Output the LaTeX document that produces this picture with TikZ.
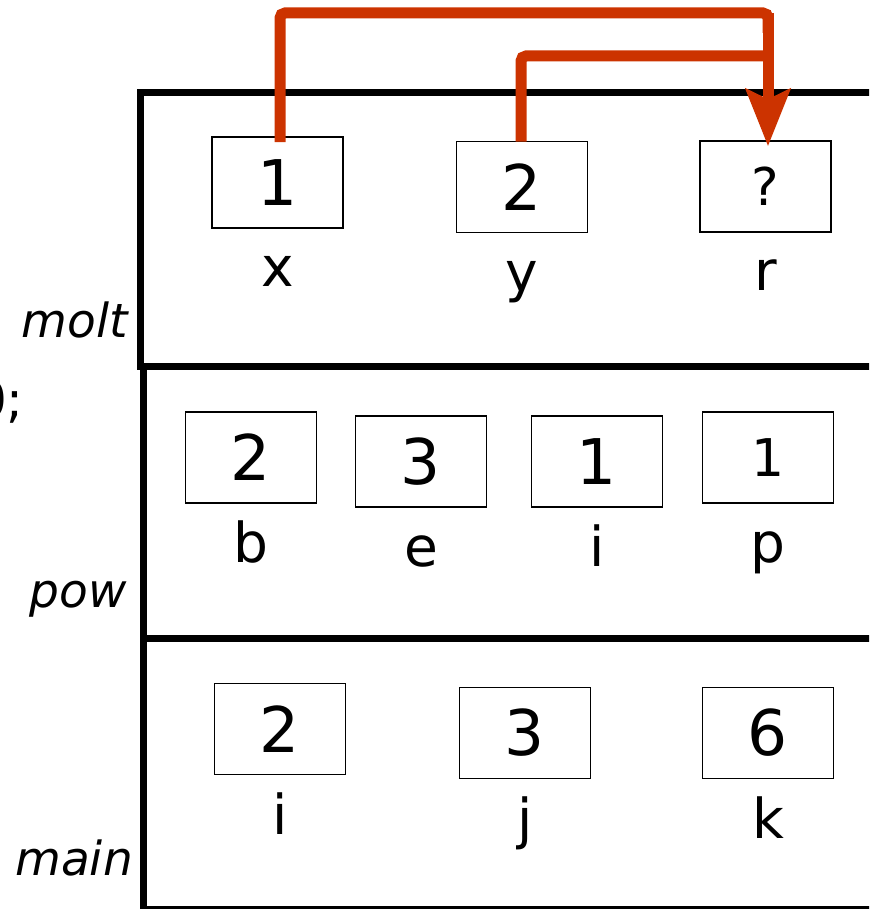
\documentclass[tikz,border=0pt]{standalone}
\usepackage{fontspec}
\setmainfont{DejaVu Sans}
\usetikzlibrary{arrows.meta}
\definecolor{arrred}{RGB}{204,51,0}
\tikzset{
  val/.style={draw=black, line width=1.5pt, minimum width=131pt, minimum height=91pt, inner sep=0pt, font=\fontsize{63}{63}\selectfont},
  valsmall/.style={val, font=\fontsize{52}{52}\selectfont},
  lbl/.style={anchor=base, inner sep=0pt, font=\fontsize{55}{55}\selectfont},
  frlbl/.style={anchor=base east, inner sep=0pt, font=\fontsize{47}{47}\selectfont\itshape},
  frame/.style={line width=7pt, black},
  redline/.style={line width=11pt, arrred, rounded corners=5pt},
}
\begin{document}
\begin{tikzpicture}[x=1pt, y=-1pt]
\useasboundingbox (0,0) rectangle (869,909);
\clip (0,0) rectangle (869,909);
% frames
\draw[frame] (875,93) -- (140,93) -- (140,366) -- (875,366);
\draw[frame] (143,366) -- (143,638) -- (875,638);
\draw[frame] (143,638) -- (143,915);
\draw[line width=3pt] (143,907) -- (875,907);
% frame labels
\node[frlbl] (lmolt) at (128,337) {molt};
\node[frlbl] (lpow) at (127,607) {pow};
\node[frlbl] (lmain) at (133,875) {main};
\node[anchor=base east, inner sep=0pt, font=\fontsize{50}{50}\selectfont] (semi) at (24,417) {0;};
% molt
\node[val] (bx) at (277.5,182.5) {1};
\node[val] (by) at (522,187) {2};
\node[valsmall] (br) at (765.5,186.5) {?};
\node[lbl] (lx) at ([yshift=-58pt]bx.south) {x};
\node[lbl] (ly) at ([yshift=-58pt]by.south) {y};
\node[lbl] (lr) at ([yshift=-58pt]br.south) {r};
% pow
\node[val] (bb) at (251,457.5) {2};
\node[val] (be) at (421,461.5) {3};
\node[val] (bi) at (597,461.5) {1};
\node[valsmall] (bp) at (768,457.5) {1};
\node[lbl] (lb) at ([yshift=-59pt]bb.south) {b};
\node[lbl] (le) at ([yshift=-59pt]be.south) {e};
\node[lbl] (li) at ([yshift=-59pt]bi.south) {i};
\node[lbl] (lp) at ([yshift=-59pt]bp.south) {p};
% main
\node[val] (mi) at (280,729) {2};
\node[val] (mj) at (525,733) {3};
\node[val] (mk) at (768,733) {6};
\node[lbl] (lmi) at ([yshift=-59pt]mi.south) {i};
\node[lbl] (lmj) at ([yshift=-59pt]mj.south) {j};
\node[lbl] (lmk) at ([yshift=-59pt]mk.south) {k};
% arrows
\coordinate (c1) at (768,13);
\coordinate (c2) at (768,56);
\draw[redline] ([xshift=2.5pt,yshift=-6pt]bx.north) |- (c1) -- ++(0,20);
\draw[redline] ([xshift=-1pt,yshift=-1pt]by.north) |- (c2);
\draw[line width=11pt, arrred, -{Stealth[length=57pt,width=44pt,inset=10pt]}] (c1) -- ([xshift=2.5pt,yshift=-6pt]br.north);
\end{tikzpicture}
\end{document}
